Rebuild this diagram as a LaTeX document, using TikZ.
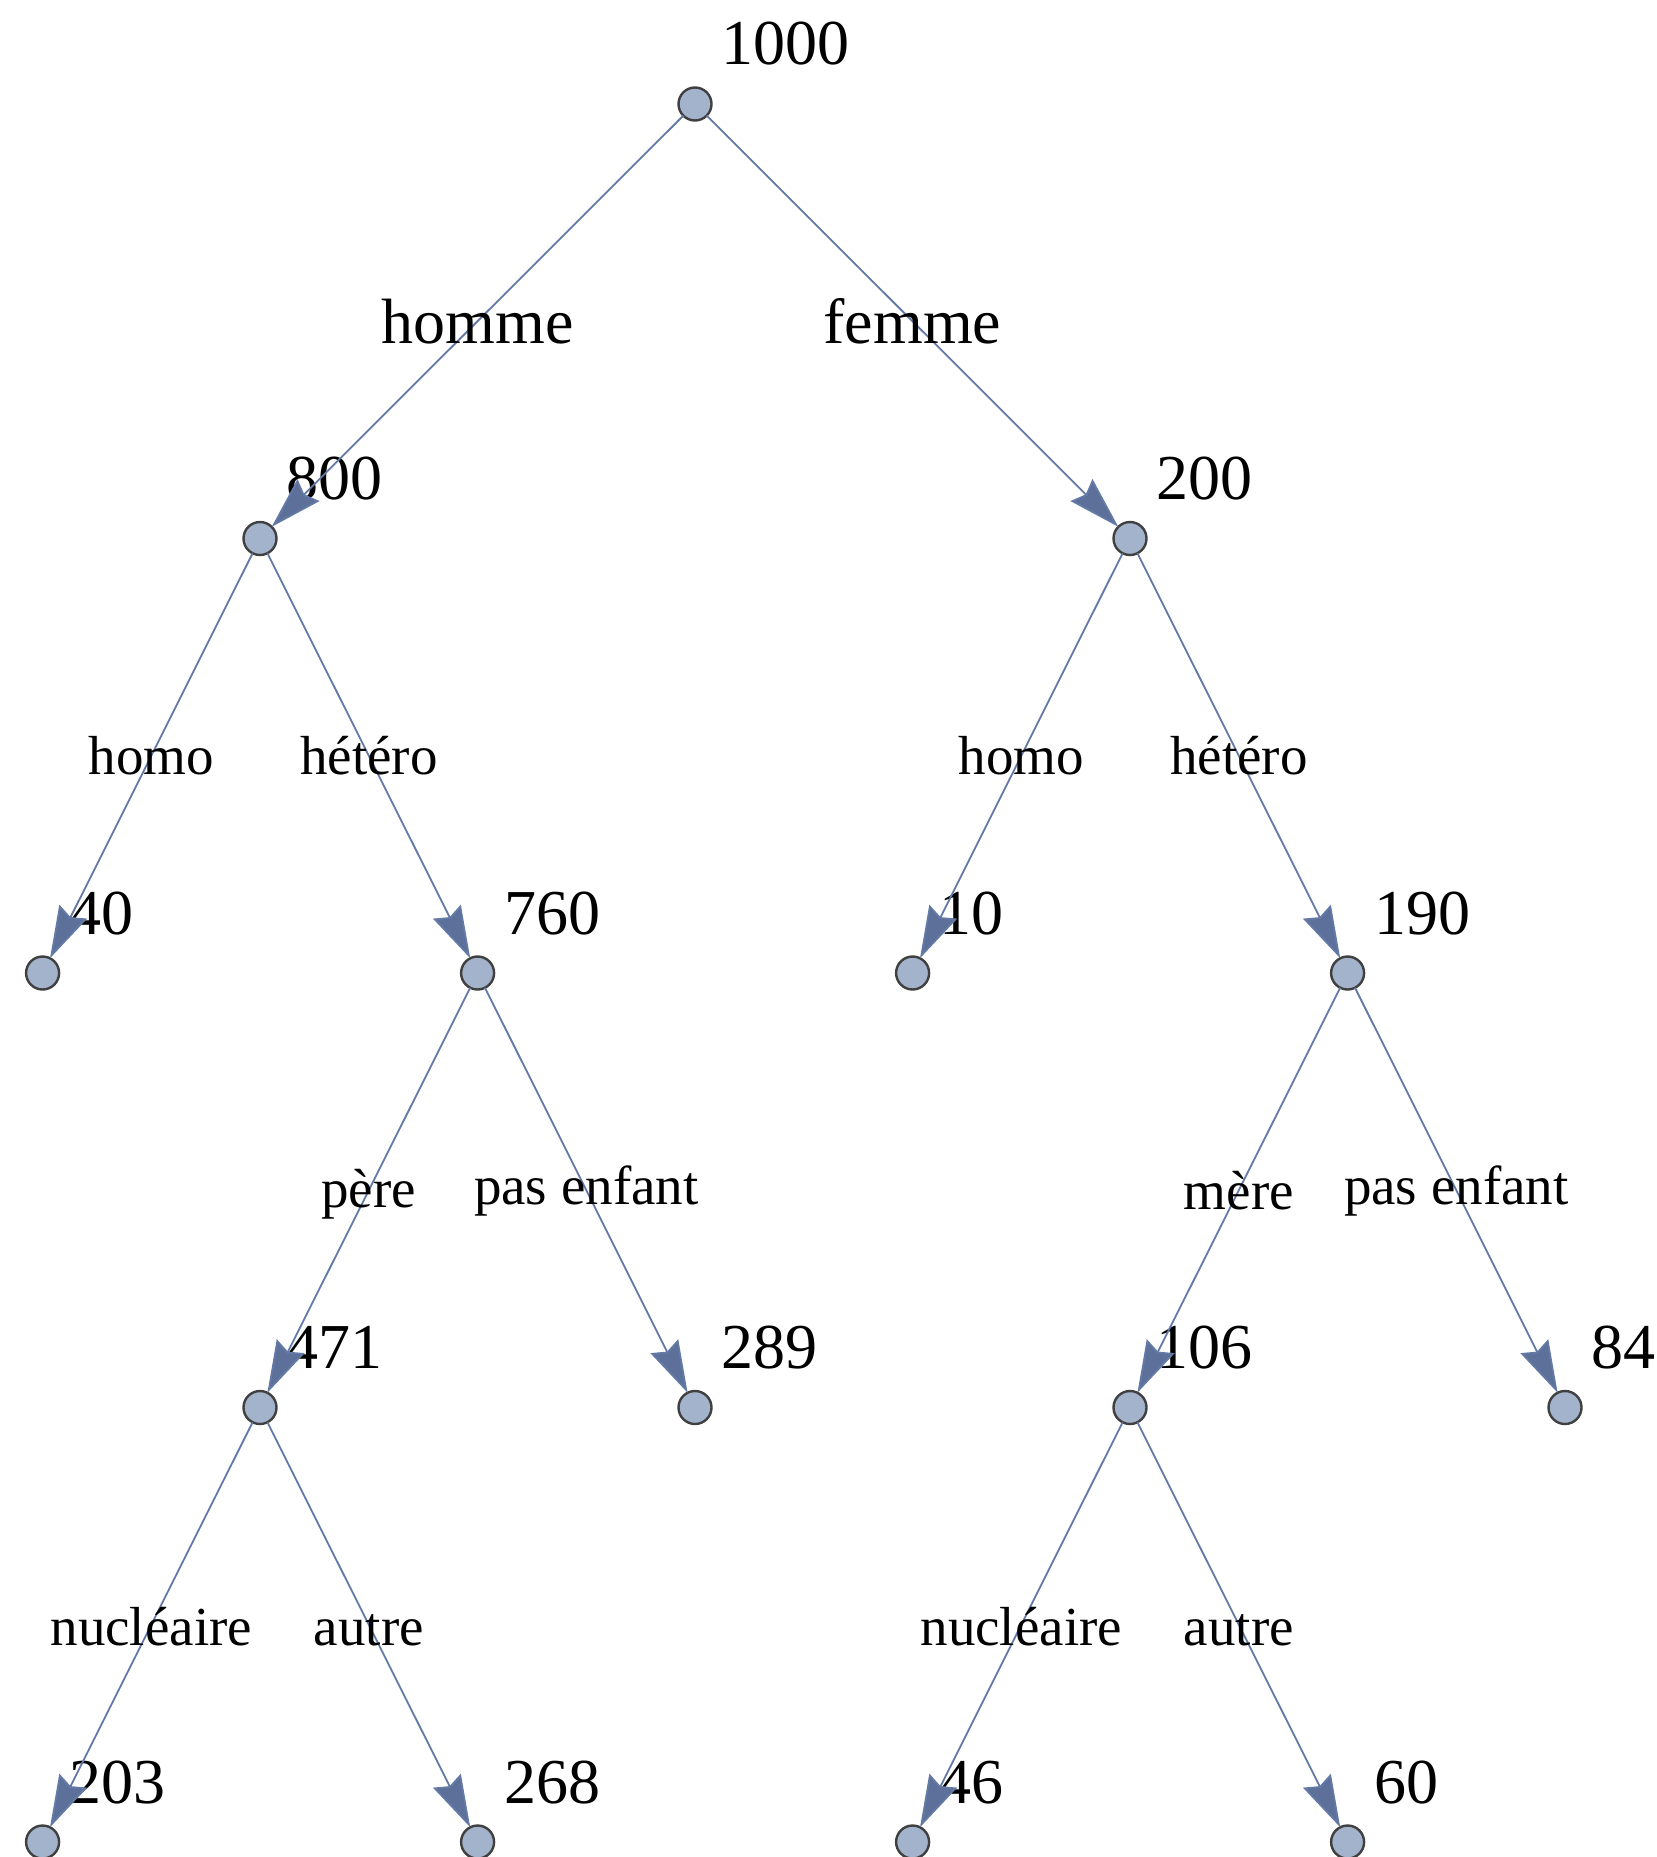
\documentclass[tikz,border=0pt]{standalone}
\usepackage{fontspec}
\setmainfont{Liberation Serif}
\usetikzlibrary{arrows.meta}
\definecolor{vfill}{RGB}{163,179,204}
\definecolor{vdraw}{RGB}{64,64,64}
\definecolor{ecol}{RGB}{100,122,166}
\definecolor{afill}{RGB}{92,112,153}
\begin{document}
\begin{tikzpicture}[x=0.5pt,y=-0.5pt,
  vertex/.style={circle,fill=vfill,draw=vdraw,line width=1.2pt,minimum size=16.5pt,inner sep=0pt,outer sep=0pt},
  edgeline/.style={draw=ecol,line width=0.9pt,-{Stealth[length=26pt,width=15.5pt,inset=3pt,fill=afill]}},
  count/.style={anchor=base west,inner sep=0pt,font=\fontsize{32}{32}\selectfont},
  toplab/.style={inner sep=0pt,anchor=base,yshift=-11pt,font=\fontsize{32}{32}\selectfont},
  sublab/.style={inner sep=0pt,anchor=base,yshift=-9.5pt,font=\fontsize{27.5}{27.5}\selectfont}]
\useasboundingbox (0,0) rectangle (1657,1857);

% vertices
\node[vertex] (v1000) at (695,104) {};
\node[vertex] (v800) at (260,538.5) {};
\node[vertex] (v200) at (1130,538.5) {};
\node[vertex] (v40) at (42.6,973) {};
\node[vertex] (v760) at (477.6,973) {};
\node[vertex] (v10) at (912.6,973) {};
\node[vertex] (v190) at (1347.6,973) {};
\node[vertex] (v471) at (260,1407.5) {};
\node[vertex] (v289) at (695,1407.5) {};
\node[vertex] (v106) at (1130,1407.5) {};
\node[vertex] (v84) at (1565,1407.5) {};
\node[vertex] (v203) at (42.6,1842) {};
\node[vertex] (v268) at (477.6,1842) {};
\node[vertex] (v46) at (912.6,1842) {};
\node[vertex] (v60) at (1347.6,1842) {};

% counts
\foreach \v in {1000,800,200,40,760,10,190,471,289,106,84,203,268,46,60}
  \node[count] (c\v) at ([shift={(26,-39)}]v\v.center) {\v};

% edges with their labels
\draw[edgeline] (v1000) -- node[toplab] (lhomme) {homme} (v800);
\draw[edgeline] (v1000) -- node[toplab] (lfemme) {femme} (v200);
\draw[edgeline] (v800) -- node[sublab] (lhomoA) {homo} (v40);
\draw[edgeline] (v800) -- node[sublab] (lheteroA) {hétéro} (v760);
\draw[edgeline] (v200) -- node[sublab] (lhomoB) {homo} (v10);
\draw[edgeline] (v200) -- node[sublab] (lheteroB) {hétéro} (v190);
\draw[edgeline] (v760) -- node[sublab,yshift=1pt] (lpere) {père} (v471);
\draw[edgeline] (v760) -- node[sublab,yshift=2.5pt] (lpasA) {pas enfant} (v289);
\draw[edgeline] (v190) -- node[sublab] (lmere) {mère} (v106);
\draw[edgeline] (v190) -- node[sublab,yshift=2.5pt] (lpasB) {pas enfant} (v84);
\draw[edgeline] (v471) -- node[sublab,yshift=-1pt] (lnucA) {nucléaire} (v203);
\draw[edgeline] (v471) -- node[sublab,yshift=-1pt] (lautreA) {autre} (v268);
\draw[edgeline] (v106) -- node[sublab,yshift=-1pt] (lnucB) {nucléaire} (v46);
\draw[edgeline] (v106) -- node[sublab,yshift=-1pt] (lautreB) {autre} (v60);
\end{tikzpicture}
\end{document}
